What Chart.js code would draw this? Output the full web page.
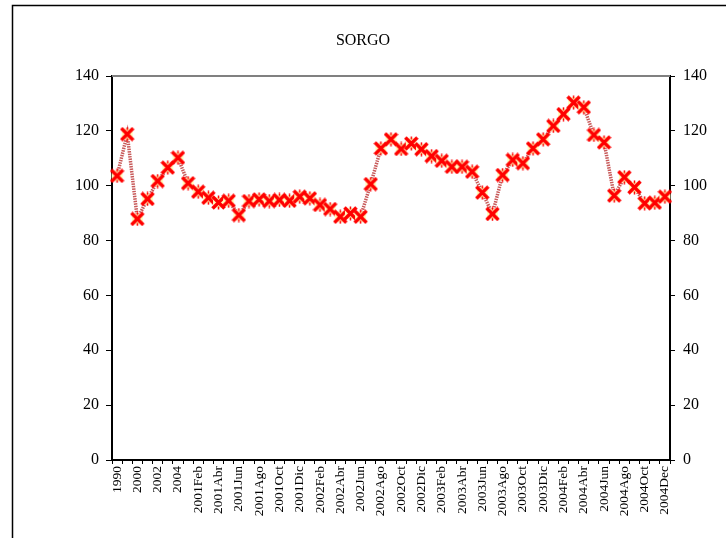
<!DOCTYPE html>
<html>
<head>
<meta charset="utf-8">
<script src="https://cdn.jsdelivr.net/npm/chart.js@4"></script>
<style>
html,body{margin:0;padding:0;background:#fff;}
#wrap{position:relative;width:726px;height:538px;}
</style>
</head>
<body>
<div id="wrap"><canvas id="c" width="726" height="538"></canvas></div>
<script>
const titleText = "SORGO";
const categories = [
  "1990","1995","2000","2001","2002","2003","2004",
  "2001Ene","2001Feb","2001Mar","2001Abr","2001May","2001Jun","2001Jul","2001Ago","2001Sep","2001Oct","2001Nov","2001Dic",
  "2002Ene","2002Feb","2002Mar","2002Abr","2002May","2002Jun","2002Jul","2002Ago","2002Sep","2002Oct","2002Nov","2002Dic",
  "2003Ene","2003Feb","2003Mar","2003Abr","2003May","2003Jun","2003Jul","2003Ago","2003Sep","2003Oct","2003Nov","2003Dic",
  "2004Ene","2004Feb","2004Mar","2004Abr","2004May","2004Jun","2004Jul","2004Ago","2004Sep","2004Oct","2004Nov","2004Dec"
];
const sorgo = [
  103.6,118.8,87.9,95.2,101.7,106.6,110.2,
  100.9,97.8,95.6,93.9,94.5,89.3,94.4,95.0,94.4,94.8,94.5,96.0,
  95.4,93.0,91.5,88.7,89.9,88.7,100.6,113.6,116.9,113.4,115.4,113.3,
  110.8,109.1,106.9,106.9,105.1,97.5,89.7,103.9,109.4,108.2,113.6,116.9,
  121.8,126.1,130.3,128.6,118.5,115.8,96.4,103.1,99.4,93.6,93.8,96.0
];
const yTicks = [0,20,40,60,80,100,120,140];

// marker: red X on pale yellow square
const mk = document.createElement('canvas');
mk.width = 15; mk.height = 15;
(function(){
  const g = mk.getContext('2d');
  g.fillStyle = '#ffffc0';
  g.fillRect(2,2,11,11);
  g.strokeStyle = '#ff0000';
  g.lineWidth = 3.5;
  g.lineCap = 'butt';
  g.beginPath();
  g.moveTo(1.5,1.5); g.lineTo(13.5,13.5);
  g.moveTo(13.5,1.5); g.lineTo(1.5,13.5);
  g.stroke();
  g.lineWidth = 1.5;
  g.beginPath();
  g.moveTo(7.5,0.5); g.lineTo(7.5,3.5);
  g.moveTo(7.5,11.5); g.lineTo(7.5,14.5);
  g.stroke();
})();

const frame = {
  id: 'frame',
  beforeDraw(chart){
    const ctx = chart.ctx;
    ctx.save();
    ctx.fillStyle = '#fff';
    ctx.fillRect(0,0,chart.width,chart.height);
    ctx.strokeStyle = '#000';
    ctx.lineWidth = 1.5;
    ctx.strokeRect(12.5,5.5,900,900);
    ctx.restore();
  },
  afterDatasetsDraw(chart){
    const a = chart.chartArea, ctx = chart.ctx;
    ctx.save();
    ctx.strokeStyle = '#808080';
    ctx.lineWidth = 2;
    ctx.beginPath();
    ctx.moveTo(a.left, a.top); ctx.lineTo(a.right, a.top);
    ctx.stroke();
    ctx.restore();
  }
};

const serif = "'Liberation Serif','DejaVu Serif',serif";

new Chart(document.getElementById('c'), {
  type: 'line',
  data: {
    labels: categories,
    datasets: [{
      data: sorgo,
      borderColor: '#c85a5a',
      borderWidth: 3.5,
      borderDash: [1.5,1],
      tension: 0,
      pointStyle: mk,
      pointRadius: 7,
      pointHoverRadius: 7,
      yAxisID: 'y'
    }]
  },
  options: {
    responsive: false,
    animation: false,
    devicePixelRatio: 1,
    layout: { padding: 0 },
    plugins: {
      legend: { display: false },
      tooltip: { enabled: false },
      title: {
        display: true,
        text: titleText,
        color: '#000',
        font: { family: serif, size: 16, weight: 'normal', lineHeight: 1.125 },
        padding: { top: 32, bottom: 26 }
      }
    },
    scales: {
      x: {
        type: 'category',
        offset: true,
        grid: { display: true, drawOnChartArea: false, drawTicks: true, tickLength: 4, color: '#000', offset: true },
        border: { color: '#000', width: 2 },
        ticks: {
          autoSkip: false,
          maxRotation: 90,
          minRotation: 90,
          padding: 2,
          color: '#000',
          font: { family: serif, size: 13.5 },
          callback: function(v, i){ return i % 2 === 0 ? categories[i] : ''; }
        },
        afterFit(s){ s.height = 78; }
      },
      y: {
        position: 'left',
        min: 0, max: 140,
        afterBuildTicks(s){ s.ticks = yTicks.map(v => ({value: v})); },
        grid: { drawOnChartArea: false, drawTicks: true, tickLength: 6, color: '#000' },
        border: { color: '#000', width: 2 },
        ticks: { color: '#000', padding: 7, font: { family: serif, size: 16 } },
        afterFit(s){ s.width = 112; }
      },
      y2: {
        position: 'right',
        min: 0, max: 140,
        afterBuildTicks(s){ s.ticks = yTicks.map(v => ({value: v})); },
        grid: { drawOnChartArea: false, drawTicks: true, tickLength: 5, color: '#000' },
        border: { color: '#000', width: 2 },
        ticks: { color: '#000', padding: 8, font: { family: serif, size: 16 } },
        afterFit(s){ s.width = 56; }
      }
    }
  },
  plugins: [frame]
});
</script>
</body>
</html>
